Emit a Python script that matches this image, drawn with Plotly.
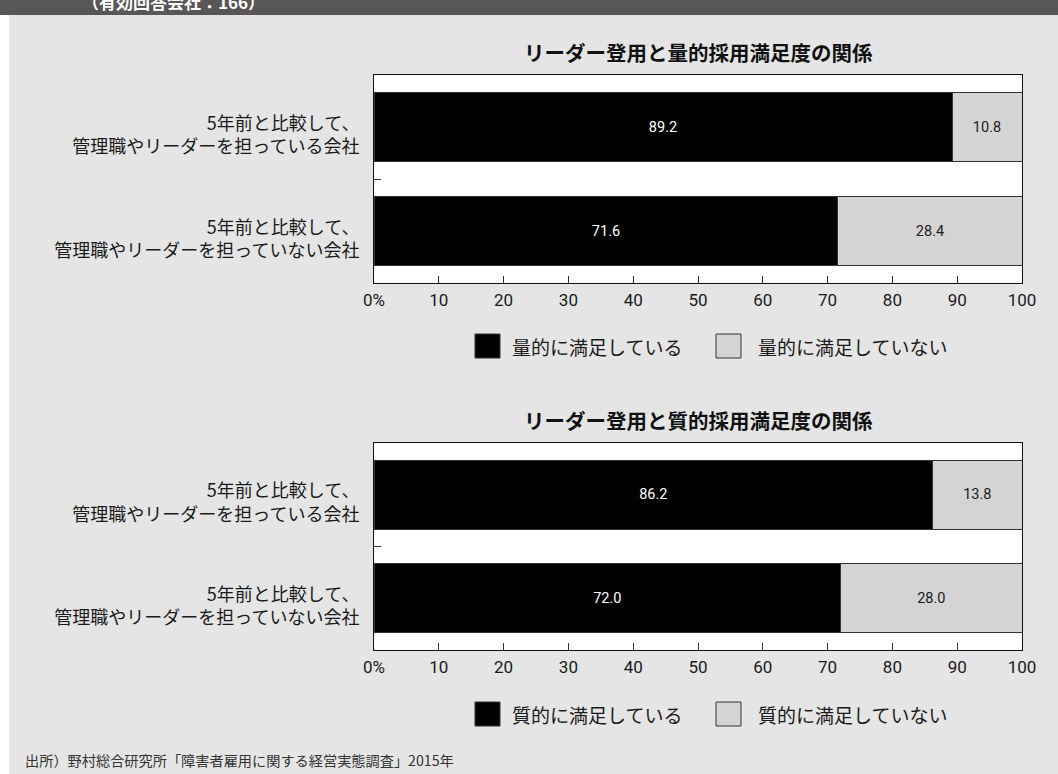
import plotly.graph_objects as go

W, H = 1058, 774

# ---- data -------------------------------------------------------------
categories = [
    "5年前と比較して、<br>管理職やリーダーを担っている会社",
    "5年前と比較して、<br>管理職やリーダーを担っていない会社",
]
quant_satisfied = [89.2, 71.6]
quant_unsatisfied = [10.8, 28.4]
qual_satisfied = [86.2, 72.0]
qual_unsatisfied = [13.8, 28.0]

titles = ["リーダー登用と量的採用満足度の関係", "リーダー登用と質的採用満足度の関係"]
series_names = [
    ["量的に満足している", "量的に満足していない"],
    ["質的に満足している", "質的に満足していない"],
]
x_tickvals = [0, 10, 20, 30, 40, 50, 60, 70, 80, 90, 100]
x_ticktext = ["0%", "10", "20", "30", "40", "50", "60", "70", "80", "90", "100"]

header_text = "（有効回答会社：166）"
source_text = "出所）野村総合研究所「障害者雇用に関する経営実態調査」2015年"

# ---- style ------------------------------------------------------------
BLACK = "#000000"
GREY = "#d4d4d4"
EDGE = "#333333"
BG = "#e5e5e5"
JP = "Noto Sans CJK JP"


def px(x):
    return x / W


def py(y):
    return 1 - y / H


# plot-area pixel boxes for the two panels (top, bottom)
panels = [(75, 283), (443, 650)]
X0, X1 = 374, 1022
panel_offset = [0, 368]

fig = go.Figure()

datasets = [
    (quant_satisfied, quant_unsatisfied),
    (qual_satisfied, qual_unsatisfied),
]

for i, (sat, unsat) in enumerate(datasets):
    ax = "" if i == 0 else str(i + 1)
    fig.add_trace(go.Bar(
        y=categories, x=sat, orientation="h",
        name=series_names[i][0],
        marker=dict(color=BLACK, line=dict(color=EDGE, width=1)),
        text=[f"{v:.1f}" for v in sat],
        textposition="inside", insidetextanchor="middle", textangle=0,
        textfont=dict(family="Roboto", size=14.5, color="#ffffff"),
        xaxis="x" + ax, yaxis="y" + ax, showlegend=False,
    ))
    fig.add_trace(go.Bar(
        y=categories, x=unsat, orientation="h",
        name=series_names[i][1],
        marker=dict(color=GREY, line=dict(color=EDGE, width=1)),
        text=[f"{v:.1f}" for v in unsat],
        textposition="inside", insidetextanchor="middle", textangle=0,
        textfont=dict(family="Roboto", size=14.5, color="#1a1a1a"),
        xaxis="x" + ax, yaxis="y" + ax, showlegend=False,
    ))

layout = dict(
    width=W, height=H,
    margin=dict(l=0, r=0, t=0, b=0),
    paper_bgcolor=BG,
    plot_bgcolor="#ffffff",
    barmode="stack",
    bargap=0.33,
    showlegend=False,
    font=dict(family=JP, color="#1a1a1a"),
)

shapes = [
    # white strip on the left edge and dark header band
    dict(type="rect", xref="paper", yref="paper", x0=0, x1=px(9), y0=0, y1=1,
         fillcolor="#ffffff", line=dict(width=0), layer="below"),
    dict(type="rect", xref="paper", yref="paper", x0=0, x1=1, y0=py(15), y1=1,
         fillcolor="#585657", line=dict(width=0), layer="below"),
]
annotations = [
    dict(text=header_text, xref="paper", yref="paper", x=px(80), y=py(1),
         xanchor="left", yanchor="middle", showarrow=False,
         font=dict(family=JP, size=17, color="#ffffff", weight="bold")),
    dict(text=source_text, xref="paper", yref="paper", x=px(23), y=py(760),
         xanchor="left", yanchor="middle", showarrow=False,
         font=dict(family=JP, size=14.2, color="#333333")),
]

for i, (top, bot) in enumerate(panels):
    ax = "" if i == 0 else str(i + 1)
    off = panel_offset[i]
    layout["xaxis" + ax] = dict(
        domain=[px(X0), px(X1)], range=[0, 100], anchor="y" + ax,
        tickvals=x_tickvals, ticktext=x_ticktext,
        ticks="inside", ticklen=7, tickwidth=1, tickcolor=EDGE,
        showline=True, linecolor="#111111", linewidth=1, mirror=True,
        showgrid=False, zeroline=False, fixedrange=True,
        tickfont=dict(family="Roboto", size=17, color="#1a1a1a"),
        ticklabelstandoff=2, automargin=False,
    )
    layout["yaxis" + ax] = dict(
        domain=[py(bot), py(top)], anchor="x" + ax,
        type="category", autorange="reversed",
        tickson="boundaries", ticks="inside", ticklen=7, tickwidth=1, tickcolor=EDGE,
        showline=True, linecolor="#111111", linewidth=1, mirror=True,
        showgrid=False, zeroline=False, fixedrange=True,
        tickfont=dict(family=JP, size=18, color="#1a1a1a"),
        ticklabelstandoff=10, ticklabelshift=-8, automargin=False,
    )

    # panel title
    annotations.append(dict(
        text=titles[i], xref="paper", yref="paper", x=px((X0 + X1) / 2), y=py(52 + off),
        xanchor="center", yanchor="middle", showarrow=False,
        font=dict(family=JP, size=20.5, color="#111111", weight="bold"),
    ))

    # legend: swatch + label for each series
    ly = 346 + off
    for name, color, sx, tx in [
        (series_names[i][0], BLACK, 475, 510),
        (series_names[i][1], GREY, 716, 756),
    ]:
        shapes.append(dict(
            type="rect", xref="paper", yref="paper",
            x0=px(sx), x1=px(sx + 25), y0=py(ly + 12), y1=py(ly - 12),
            fillcolor=color, line=dict(color=EDGE, width=1),
        ))
        annotations.append(dict(
            text=name, xref="paper", yref="paper", x=px(tx), y=py(ly),
            xanchor="left", yanchor="middle", showarrow=False,
            font=dict(family=JP, size=19, color="#1a1a1a"),
        ))

layout["shapes"] = shapes
layout["annotations"] = annotations
fig.update_layout(**layout)

fig.write_html("out.html")
